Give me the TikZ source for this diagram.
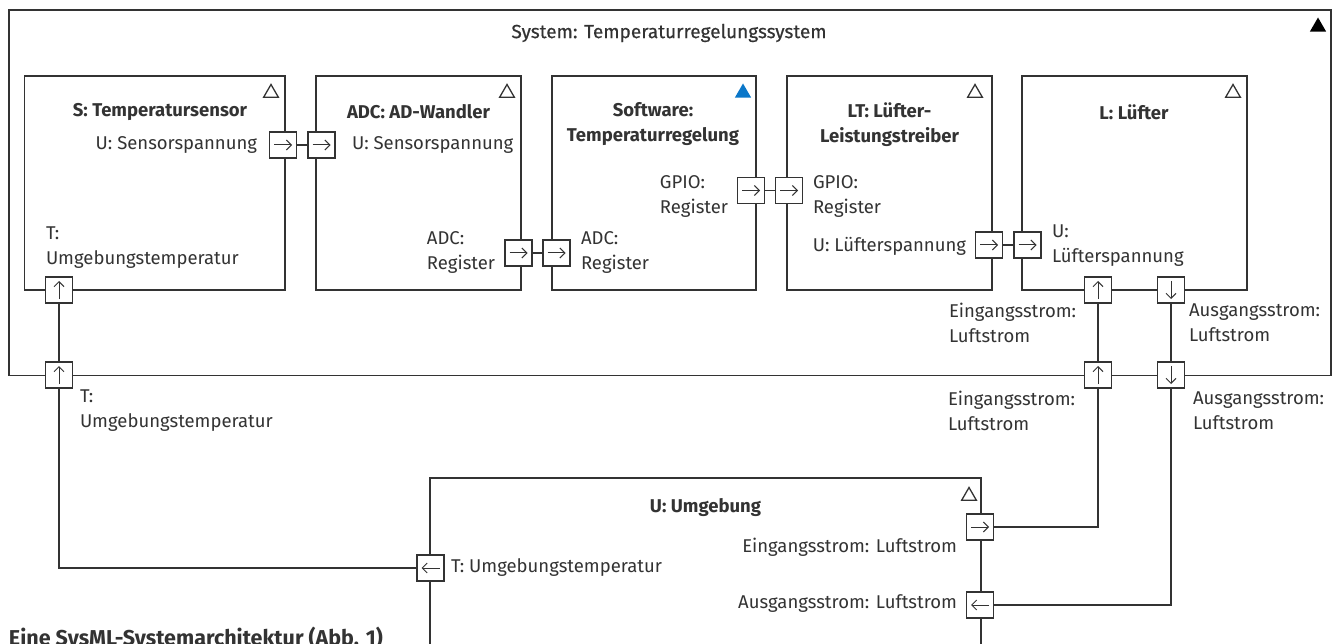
\documentclass[tikz,border=0pt]{standalone}
\usepackage{fontspec}
\setmainfont{Fira Sans}
\newfontfamily\medfont[FakeBold=0.5]{Fira Sans}
\usetikzlibrary{arrows.meta,shapes.geometric}
\definecolor{ln}{HTML}{333333}
\definecolor{swblue}{HTML}{0A77C9}
\tikzset{
  txt/.style={font=\fontsize{18.5}{25}\selectfont, text=ln, inner sep=0pt, outer sep=0pt},
  ttl/.style={txt, font=\fontsize{18.5}{25}\selectfont\bfseries, align=center},
  blk/.style={draw=ln, line width=1.9pt, rectangle, anchor=north west, inner sep=0pt, outer sep=0pt},
  port/.style={draw=ln, fill=white, line width=1.5pt, rectangle, minimum width=27pt, minimum height=26pt, inner sep=0pt, outer sep=0pt},
  parrow/.style={line width=1pt, draw=ln, -{Straight Barb[length=5pt,width=10pt]}},
  pR/.style={port, path picture={\draw[parrow] ([xshift=-9pt]path picture bounding box.center) -- ([xshift=9pt]path picture bounding box.center);}},
  pL/.style={port, path picture={\draw[parrow] ([xshift=9pt]path picture bounding box.center) -- ([xshift=-9pt]path picture bounding box.center);}},
  pU/.style={port, path picture={\draw[parrow] ([yshift=-9pt]path picture bounding box.center) -- ([yshift=9pt]path picture bounding box.center);}},
  pD/.style={port, path picture={\draw[parrow] ([yshift=9pt]path picture bounding box.center) -- ([yshift=-9pt]path picture bounding box.center);}},
  conn/.style={draw=ln, line width=1.6pt},
  tri/.style={regular polygon, regular polygon sides=3, minimum size=17pt, inner sep=0pt, outer sep=0pt, draw=ln, line width=1.3pt},
  trifill/.style={regular polygon, regular polygon sides=3, minimum size=19pt, inner sep=0pt, outer sep=0pt, fill=#1},
}
\begin{document}
\begin{tikzpicture}[x=1pt,y=-1pt]
\useasboundingbox (0,0) rectangle (1338,644);
\clip (0,0) rectangle (1338,644);
\fill[white] (0,0) rectangle (1338,644);

% system frame
\node[blk, minimum width=1322pt, minimum height=365.5pt] (sys) at (9,10) {};
\node[trifill=black] (sysTri) at (1318,27) {};
\node[txt, font=\fontsize{19}{25}\selectfont\medfont] (sysT) at (669,33) {System: Temperaturregelungssystem};

% blocks
\node[blk, minimum width=260.5pt, minimum height=214pt] (S) at (24.5,76) {};
\node[blk, minimum width=205pt, minimum height=214pt] (ADC) at (316,76) {};
\node[blk, minimum width=204pt, minimum height=214pt] (SW) at (552,76) {};
\node[blk, minimum width=205pt, minimum height=214pt] (LT) at (787,76) {};
\node[blk, minimum width=225pt, minimum height=214pt] (L) at (1022,76) {};
\node[blk, minimum width=551pt, minimum height=260pt] (U) at (430,478) {};

\node[tri] (triS) at (271,93) {};
\node[tri] (triA) at (507,93) {};
\node[trifill=swblue] (triSW) at (743,93) {};
\node[tri] (triLT) at (975,93) {};
\node[tri] (triL) at (1233,93) {};
\node[tri] (triU) at (969,496) {};

% titles
\node[ttl] (tS) at (160,112) {S: Temperatursensor};
\node[ttl] (tA) at (418.5,112) {ADC: AD-Wandler};
\node[ttl] (tSW) at (653,124.5) {Software:\\Temperaturregelung};
\node[ttl] (tLT) at (889.5,124.5) {LT: Lüfter-\\Leistungstreiber};
\node[ttl] (tL) at (1134,112) {L: Lüfter};
\node[ttl] (tU) at (705.5,508) {U: Umgebung};

% ports
\node[pR] (pSo) at (283,145) {};
\node[pR] (pAi) at (321.5,145) {};
\node[pR] (pAo) at (518.5,253) {};
\node[pR] (pSWi) at (556.5,253) {};
\node[pR] (pSWo) at (751,190.5) {};
\node[pR] (pLTi) at (789,190.5) {};
\node[pR] (pLTo) at (989,245) {};
\node[pR] (pLi) at (1027.5,245) {};
\node[pU] (pLup) at (1098,290) {};
\node[pD] (pLdn) at (1171,290) {};
\node[pU] (pSysUp) at (1098,375) {};
\node[pD] (pSysDn) at (1171,375) {};
\node[pU] (pST) at (59,290) {};
\node[pU] (pSysT) at (59,375) {};
\node[pL] (pUT) at (430.5,568) {};
\node[pR] (pUin) at (980,527) {};
\node[pL] (pUout) at (980,605) {};

% connectors
\draw[conn] (pSo.east) -- (pAi.west);
\draw[conn] (pAo.east) -- (pSWi.west);
\draw[conn] (pSWo.east) -- (pLTi.west);
\draw[conn] (pLTo.east) -- (pLi.west);
\draw[conn] (pST.south) -- (pSysT.north);
\draw[conn] (pSysT.south) |- (pUT.west);
\draw[conn] (pLup.south) -- (pSysUp.north);
\draw[conn] (pLdn.south) -- (pSysDn.north);
\draw[conn] (pSysUp.south) |- (pUin.east);
\draw[conn] (pSysDn.south) |- (pUout.east);

% port labels
\node[txt, anchor=east] (lSo) at (257,145) {U: Sensorspannung};
\node[txt, anchor=west, align=left] (lST) at (46,248) {T:\\Umgebungstemperatur};
\node[txt, anchor=west] (lAi) at (352,145) {U: Sensorspannung};
\node[txt, anchor=east, align=left] (lAo) at (495,252.5) {ADC:\\Register};
\node[txt, anchor=west, align=left] (lSWi) at (581,252.5) {ADC:\\Register};
\node[txt, anchor=east, align=left] (lSWo) at (728,196.5) {GPIO:\\Register};
\node[txt, anchor=west, align=left] (lLTi) at (813,196.5) {GPIO:\\Register};
\node[txt, anchor=east] (lLTo) at (966,246) {U: Lüfterspannung};
\node[txt, anchor=west, align=left] (lLi) at (1052,245.5) {U:\\Lüfterspannung};
\node[txt, anchor=west, align=left] (lLup) at (949,322.5) {Eingangsstrom:\\Luftstrom};
\node[txt, anchor=west, align=left] (lLdn) at (1189,322.5) {Ausgangsstrom:\\Luftstrom};
\node[txt, anchor=west, align=left] (lSysUp) at (948,410.5) {Eingangsstrom:\\Luftstrom};
\node[txt, anchor=west, align=left] (lSysDn) at (1193,410.5) {Ausgangsstrom:\\Luftstrom};
\node[txt, anchor=west, align=left] (lSysT) at (80,411) {T:\\Umgebungstemperatur};
\node[txt, anchor=east] (lUin) at (957,547) {Eingangsstrom: Luftstrom};
\node[txt, anchor=east] (lUout) at (957,604) {Ausgangsstrom: Luftstrom};
\node[txt, anchor=west] (lUT) at (451,568) {T: Umgebungstemperatur};

% caption
\node[txt, font=\fontsize{21.5}{25}\selectfont\bfseries, anchor=base west] (cap) at (9,645) {Eine SysML-Systemarchitektur (Abb. 1)};
\end{tikzpicture}
\end{document}
